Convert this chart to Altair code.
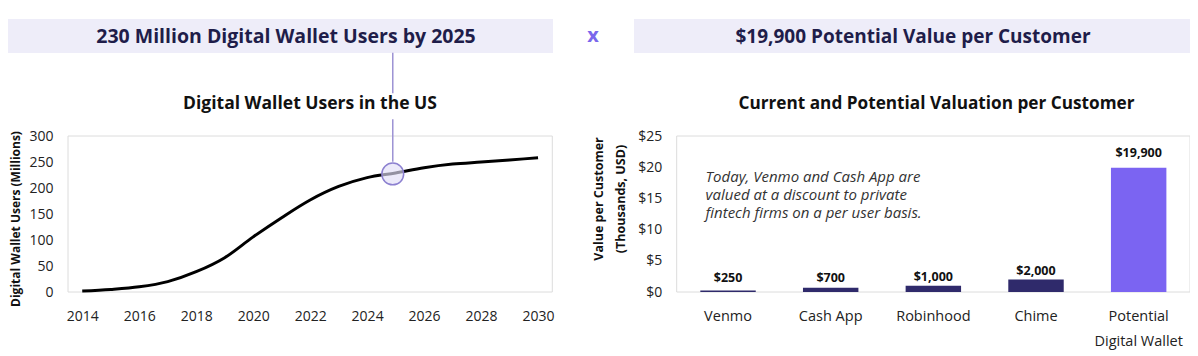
import altair as alt
import pandas as pd

# ---------------- data ----------------
years = list(range(2014, 2031))
users_millions = [2, 5, 10, 20, 39, 66, 106, 143, 177, 203, 220, 229, 239, 246, 250, 254, 258]
x_ticks_left = [2014, 2016, 2018, 2020, 2022, 2024, 2026, 2028, 2030]
y_ticks_left = [0, 50, 100, 150, 200, 250, 300]
highlight_year = [2024.9]
highlight_users = [227]

companies = ["Venmo", "Cash App", "Robinhood", "Chime", "Potential Digital Wallet"]
value_thousands = [0.25, 0.7, 1.0, 2.0, 19.9]
value_labels = ["$250", "$700", "$1,000", "$2,000", "$19,900"]
bar_kind = ["Current", "Current", "Current", "Current", "Potential"]
y_ticks_right = [0, 5, 10, 15, 20, 25]

header_left = "230 Million Digital Wallet Users by 2025"
header_right = "$19,900 Potential Value per Customer"
title_left = "Digital Wallet Users in the US"
title_right = "Current and Potential Valuation per Customer"
ytitle_left = "Digital Wallet Users (Millions)"
ytitle_right_1 = "Value per Customer"
ytitle_right_2 = "(Thousands, USD)"
note_lines = ["Today, Venmo and Cash App are",
              "valued at a discount to private",
              "fintech firms on a per user basis."]

FONT = "Open Sans"
NAVY = "#1f1d4a"
LAV_BG = "#eeedf9"

df_users = pd.DataFrame({"year": years, "users": users_millions})
df_hl = pd.DataFrame({"year": highlight_year, "users": highlight_users})
df_bars = pd.DataFrame({"company": companies, "value": value_thousands,
                        "label": value_labels, "kind": bar_kind})
dummy = pd.DataFrame({"k": [0]})

# ---------------- left panel ----------------
xs = alt.Scale(domain=[2013.5, 2030.5], range=[0, 484.3], nice=False, zero=False)
ys = alt.Scale(domain=[0, 300], range=[284, 128], nice=False)

ax_x_left = alt.Axis(orient="bottom", values=x_ticks_left, format="d", title=None,
                     grid=False, domain=False, ticks=False, tickSize=0, labelPadding=17,
                     labelFont=FONT, labelFontSize=14, labelColor="#222222",
                     labelFlush=False)
ax_y_left = alt.Axis(orient="left", values=y_ticks_left, title=None, grid=False,
                     domain=False, ticks=False, tickSize=0, labelPadding=15,
                     labelFont=FONT, labelFontSize=14, labelColor="#222222")

x_left = alt.X("year:Q", scale=xs, axis=ax_x_left)
y_left = alt.Y("users:Q", scale=ys, axis=ax_y_left)

line = alt.Chart(df_users).mark_line(color="black", strokeWidth=3,
                                     interpolate="monotone").encode(x=x_left, y=y_left)
circle = alt.Chart(df_hl).mark_circle(size=475, color="#e2dff7", fillOpacity=0.65,
                                      stroke="#8c80d0", strokeWidth=1.5,
                                      strokeOpacity=1).encode(x=x_left, y=y_left)
conn_top = alt.Chart(df_hl).mark_rule(color="#9d93d4", strokeWidth=1.5).encode(
    x=x_left, y=alt.value(44.7), y2=alt.value(85.3))
conn_bottom = alt.Chart(df_hl).mark_rule(color="#9d93d4", strokeWidth=1.5).encode(
    x=x_left, y=alt.value(111.3), y2=alt.value(153.7))

left = alt.layer(line, conn_top, conn_bottom, circle)

# ---------------- right panel ----------------
xb = alt.Scale(domain=companies, range=[608.7, 1122], paddingInner=0.46, paddingOuter=0.23)
yb = alt.Scale(domain=[0, 25], range=[284, 128], nice=False)

ax_x_right = alt.Axis(orient="bottom", title=None, grid=False, domain=False, ticks=False,
                      tickSize=0, labelPadding=17, labelFont=FONT, labelFontSize=14.5,
                      labelColor="#222222", labelAngle=0, labelOverlap=False,
                      labelLineHeight=25,
                      labelExpr="datum.label == 'Potential Digital Wallet' ? ['Potential', 'Digital Wallet'] : datum.label")
ax_y_right = alt.Axis(orient="left", offset=-608.7, values=y_ticks_right, title=None,
                      grid=False, domain=False, ticks=False, tickSize=0, labelPadding=15,
                      labelFont=FONT, labelFontSize=14, labelColor="#222222",
                      labelExpr="'$' + datum.value")

x_right = alt.X("company:N", scale=xb, sort=companies, axis=ax_x_right)

bars = alt.Chart(df_bars).mark_bar().encode(
    x=x_right,
    y=alt.Y("value:Q", scale=yb, axis=ax_y_right),
    color=alt.Color("kind:N", scale=alt.Scale(domain=["Current", "Potential"],
                                              range=["#2f2a6b", "#7b64f2"]), legend=None),
)
bar_text = alt.Chart(df_bars).transform_calculate(
    label_y="max(datum.value, 0.9) * 1.055 + 1.3"
).mark_text(font=FONT, fontSize=12.5, fontWeight="bold", color="#111111",
            baseline="middle", align="center").encode(
    x=x_right,
    y=alt.Y("label_y:Q", scale=yb, axis=ax_y_right),
    text="label:N",
)
note = alt.Chart(dummy).mark_text(text=note_lines, font=FONT, fontSize=15,
                                  fontStyle="italic", color="#333333", align="left",
                                  baseline="middle", lineHeight=18).encode(
    x=alt.value(637.6), y=alt.value(169))

right = alt.layer(bars, bar_text, note)

# ---------------- decorations ----------------
def box(x0, x1, y0, y1, **kw):
    return alt.Chart(dummy).mark_rect(**kw).encode(
        x=alt.value(x0), x2=alt.value(x1), y=alt.value(y0), y2=alt.value(y1))

def label(txt, x, y, **kw):
    return alt.Chart(dummy).mark_text(text=txt, align="center", baseline="middle",
                                      font=FONT, **kw).encode(x=alt.value(x), y=alt.value(y))

frames = [
    box(0, 484.3, 128, 284, fillOpacity=0, stroke="#dcdcdc", strokeWidth=1),
    box(608.7, 1122, 128, 284, fillOpacity=0, stroke="#dcdcdc", strokeWidth=1),
]
headers = [
    box(-60, 485, 11, 45, color=LAV_BG),
    box(566, 1122, 11, 45, color=LAV_BG),
    label(header_left, 218, 29, fontSize=19.5, fontWeight="bold", color=NAVY),
    label(header_right, 845, 29, fontSize=19, fontWeight="bold", color=NAVY),
    label("x", 525, 28, fontSize=20, fontWeight="bold", color="#7a68ec"),
    label(title_left, 242, 96, fontSize=17.5, fontWeight="bold", color="#111111"),
    label(title_right, 868.5, 96, fontSize=17.2, fontWeight="bold", color="#111111"),
    label(ytitle_left, -52, 211, fontSize=12, fontWeight="bold", color="#111111", angle=270),
    label(ytitle_right_1, 531, 191, fontSize=12.5, fontWeight="bold", color="#111111", angle=270),
    label(ytitle_right_2, 553, 191, fontSize=12.5, fontWeight="bold", color="#111111", angle=270),
]

chart = alt.layer(*frames, *headers, left, right).resolve_scale(
    x="independent", y="independent"
).properties(
    width=1122, height=284,
    padding={"left": 60, "top": 0, "right": 0, "bottom": 60},
    autosize=alt.AutoSizeParams(type="none"),
    background="white",
).configure_view(stroke=None)

chart.save("out.html", embed_options={"renderer": "svg", "actions": False})
